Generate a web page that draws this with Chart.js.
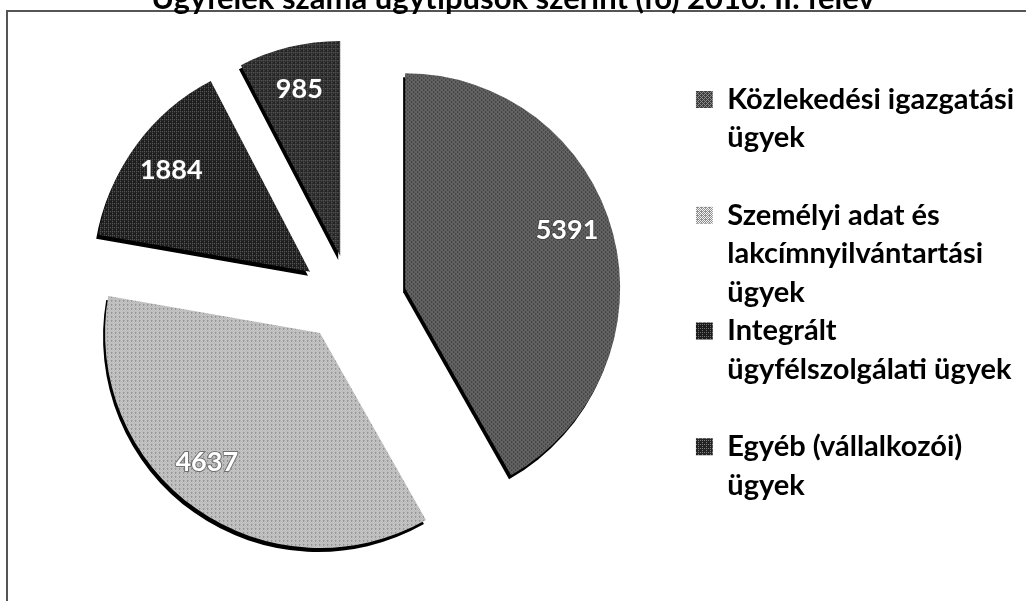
<!DOCTYPE html>
<html lang="hu">
<head>
<meta charset="utf-8">
<title>Ügyfelek száma ügytípusok szerint</title>
<script src="https://cdn.jsdelivr.net/npm/chart.js@4/dist/chart.umd.min.js"></script>
<style>
  html, body { margin: 0; padding: 0; background: #fff; }
  #wrap { width: 1026px; height: 601px; }
</style>
</head>
<body>
<div id="wrap"><canvas id="ugyfelekChart" width="1026" height="601"></canvas></div>
<script>
// Data
var chartTitle = 'Ügyfelek száma ügytípusok szerint (fő) 2010. II. félév';
var categories = [
  ['Közlekedési igazgatási', 'ügyek', ''],
  ['Személyi adat és', 'lakcímnyilvántartási', 'ügyek'],
  ['Integrált', 'ügyfélszolgálati ügyek', ''],
  ['Egyéb (vállalkozói)', 'ügyek']
];
var ugyfelek = [5391, 4637, 1884, 985];

var FONT = 'Lato';
var RADIUS = 215;

// explosion is not purely radial in the original, small correction per slice
var explodeNudge = [[3, -1], [2, 1], [8, -10], [15, -7]];
// best-fit label placement, degrees away from the middle of the slice
var labelTurn = [-5, 6, 0, 0];

// scanned halftone look: small repeating dither tile
var bayer = [0, 8, 2, 10, 12, 4, 14, 6, 3, 11, 1, 9, 15, 7, 13, 5];
function dither(dark, light, level) {
  var c = document.createElement('canvas');
  c.width = 4;
  c.height = 4;
  var x = c.getContext('2d');
  bayer.forEach(function (t, i) {
    x.fillStyle = t < level ? light : dark;
    x.fillRect(i % 4, Math.floor(i / 4), 1, 1);
  });
  return x.createPattern(c, 'repeat');
}

var fills = [
  dither('#3c3c3c', '#8c8c8c', 6),
  dither('#8e8e8e', '#f2f2f2', 7),
  dither('#1c1c1c', '#707070', 3),
  dither('#242424', '#808080', 3)
];

// Scan frame
var framePlugin = {
  id: 'frame',
  beforeDraw: function (chart) {
    var ctx = chart.ctx;
    ctx.save();
    ctx.strokeStyle = '#555';
    ctx.lineWidth = 2;
    ctx.beginPath();
    ctx.moveTo(7, chart.height);
    ctx.lineTo(7, 11);
    ctx.lineTo(chart.width, 11);
    ctx.stroke();
    ctx.restore();
  }
};

var layoutPlugin = {
  id: 'tweaks',
  // Chart.js grows and narrows exploded arcs, undo that so every slice keeps its true angle
  afterDatasetsUpdate: function (chart) {
    chart.getDatasetMeta(0).data.forEach(function (arc, i) {
      var grow = (arc.options.offset / 4) * (1 - Math.sin(Math.min(Math.PI, arc.circumference)));
      var turn = grow / Math.PI / RADIUS / 2;
      arc.outerRadius -= grow;
      arc.startAngle -= turn;
      arc.endAngle += turn;
      arc.x += explodeNudge[i][0];
      arc.y += explodeNudge[i][1];
    });
  },
  afterLayout: function (chart) {
    var legend = chart.legend;
    legend.left += 24;
    legend.right += 24;
    legend.top += 85;
    legend.bottom += 85;
    chart.titleBlock.right += 26;
  }
};

// Dark rim under the slices
var rimPlugin = {
  id: 'rim',
  beforeDatasetsDraw: function (chart) {
    var ctx = chart.ctx;
    ctx.save();
    ctx.shadowColor = '#000';
    ctx.shadowBlur = 0;
    ctx.shadowOffsetX = -2;
    ctx.shadowOffsetY = 4;
  },
  afterDatasetsDraw: function (chart) {
    chart.ctx.restore();
  }
};

// Value labels on the slices
var valuePlugin = {
  id: 'values',
  afterDraw: function (chart) {
    var ctx = chart.ctx;
    var meta = chart.getDatasetMeta(0);
    ctx.save();
    ctx.font = 'bold 27px ' + FONT;
    ctx.textAlign = 'center';
    ctx.textBaseline = 'middle';
    ctx.fillStyle = '#fff';
    ctx.strokeStyle = 'rgba(60,60,60,0.6)';
    ctx.lineWidth = 2;
    meta.data.forEach(function (arc, i) {
      var mid = (arc.startAngle + arc.endAngle) / 2;
      var cx = arc.x + Math.cos(mid) * arc.options.offset / 4;
      var cy = arc.y + Math.sin(mid) * arc.options.offset / 4;
      var a = mid + labelTurn[i] * Math.PI / 180;
      var x = cx + Math.cos(a) * RADIUS * 0.8;
      var y = cy + Math.sin(a) * RADIUS * 0.8;
      ctx.strokeText(ugyfelek[i], x, y);
      ctx.fillText(ugyfelek[i], x, y);
    });
    ctx.restore();
  }
};

var ugyfelekChart = new Chart(document.getElementById('ugyfelekChart'), {
  type: 'pie',
  data: {
    labels: categories,
    datasets: [
      {
        data: ugyfelek,
        backgroundColor: fills,
        borderWidth: 0,
        offset: [274, 124, 168, 180],
        radius: RADIUS,
      },
    ],
  },
  plugins: [framePlugin, layoutPlugin, rimPlugin, valuePlugin],
  options: {
    responsive: false,
    animation: false,
    layout: { padding: { left: 0, right: 26, top: 0, bottom: 18 } },
    plugins: {
      tooltip: { enabled: false },
      title: {
        display: true,
        text: chartTitle,
        color: '#000',
        font: { family: FONT, size: 31, weight: 'bold' },
        padding: { top: -20, bottom: 13 },
      },
      legend: {
        position: 'right',
        align: 'start',
        labels: {
          color: '#000',
          font: { family: FONT, size: 29, weight: 'bold', lineHeight: 1.33 },
          boxWidth: 17,
          boxHeight: 17,
          padding: 0,
        },
      },
    },
  },
});
</script>
</body>
</html>
